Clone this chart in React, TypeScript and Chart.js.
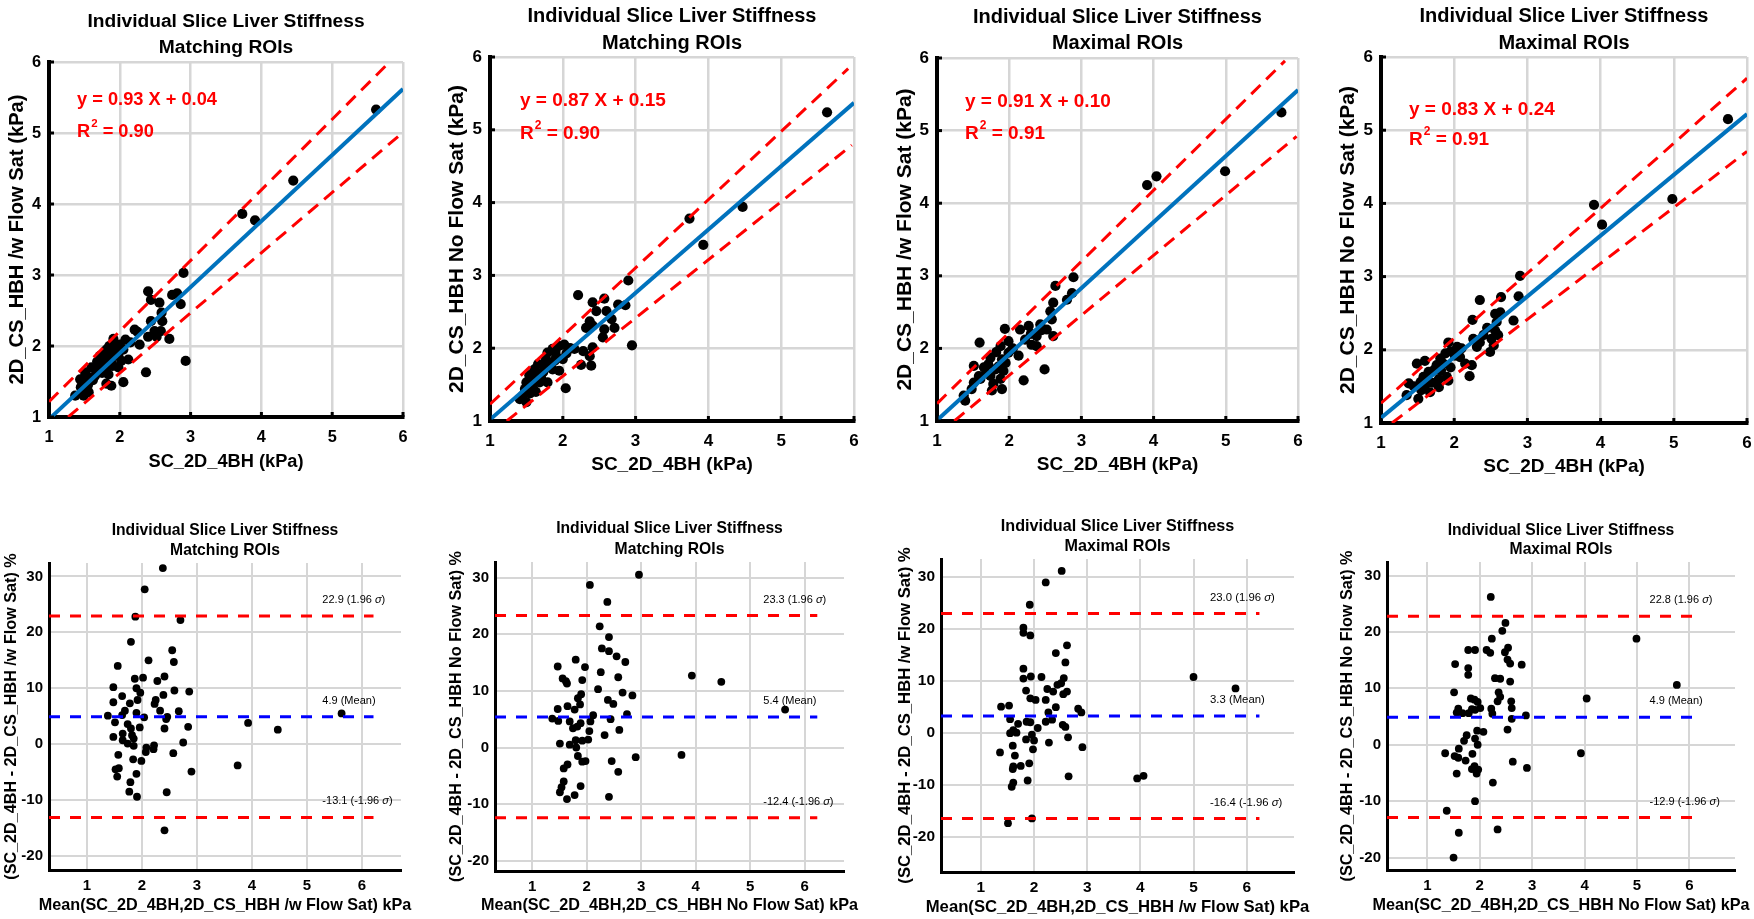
import React, { useEffect, useRef } from "react";
import { Chart, registerables } from "chart.js";
Chart.register(...registerables);

const FONT = '"Liberation Sans", Arial, sans-serif';

// ---------------- Data ----------------
const topTickValues = [1, 2, 3, 4, 5, 6];
const bottomXTickValues = [1, 2, 3, 4, 5, 6];
const bottomYTickValues = [-20, -10, 0, 10, 20, 30];

const topTitles = [
  ["Individual Slice Liver Stiffness", "Matching ROIs"],
  ["Individual Slice Liver Stiffness", "Matching ROIs"],
  ["Individual Slice Liver Stiffness", "Maximal ROIs"],
  ["Individual Slice Liver Stiffness", "Maximal ROIs"],
];
const topXTitle = "SC_2D_4BH (kPa)";
const topYTitles = [
  "2D_CS_HBH /w Flow Sat (kPa)",
  "2D_CS_HBH No Flow Sat (kPa)",
  "2D_CS_HBH /w Flow Sat (kPa)",
  "2D_CS_HBH No Flow Sat (kPa)",
];
const bottomXTitles = [
  "Mean(SC_2D_4BH,2D_CS_HBH /w Flow Sat) kPa",
  "Mean(SC_2D_4BH,2D_CS_HBH No Flow Sat) kPa",
  "Mean(SC_2D_4BH,2D_CS_HBH /w Flow Sat) kPa",
  "Mean(SC_2D_4BH,2D_CS_HBH No Flow Sat) kPa",
];
const bottomYTitles = [
  "(SC_2D_4BH - 2D_CS_HBH /w Flow Sat) %",
  "(SC_2D_4BH - 2D_CS_HBH No Flow Sat) %",
  "(SC_2D_4BH - 2D_CS_HBH /w Flow Sat) %",
  "(SC_2D_4BH - 2D_CS_HBH No Flow Sat) %",
];

const fitSlopes = [0.93, 0.87, 0.91, 0.83];
const fitIntercepts = [0.04, 0.15, 0.1, 0.24];
const fitR2 = [0.9, 0.9, 0.91, 0.91];

// dashed band end points [x, y]
const upperBands = [
  [[1.0, 1.215], [5.77, 5.96]],
  [[1.0, 1.23], [5.92, 5.84]],
  [[1.0, 1.24], [5.82, 5.96]],
  [[1.0, 1.27], [6.0, 5.71]],
];
const lowerBands = [
  [[1.27, 1.0], [5.93, 4.95]],
  [[1.23, 1.0], [5.97, 4.79]],
  [[1.24, 1.0], [5.98, 4.92]],
  [[1.15, 1.0], [6.0, 4.71]],
];

const p1Points = [
  [5.62, 5.33], [4.45, 4.33], [3.73, 3.86], [3.91, 3.77], [2.9, 3.03], [2.93, 1.79],
  [2.4, 2.77], [2.44, 2.65], [2.56, 2.61], [2.74, 2.72], [2.81, 2.74], [2.86, 2.59],
  [2.59, 2.47], [2.44, 2.35], [2.6, 2.35], [2.49, 2.21], [2.58, 2.21], [2.7, 2.1],
  [2.4, 2.13], [2.28, 2.02], [2.21, 2.23], [2.08, 2.09], [1.91, 2.1], [1.93, 2.0],
  [1.81, 1.95], [1.88, 1.91], [1.98, 1.86], [2.12, 1.81], [1.79, 1.81], [1.88, 1.77],
  [1.74, 1.7], [1.6, 1.7], [1.67, 1.67], [1.51, 1.63], [1.56, 1.56], [1.65, 1.58],
  [1.79, 1.65], [1.84, 1.6], [1.98, 1.7], [2.02, 1.79], [2.37, 1.63], [2.05, 1.49],
  [1.81, 1.47], [1.88, 1.44], [1.47, 1.49], [1.56, 1.35], [1.37, 1.3], [1.49, 1.3],
  [1.44, 1.53], [1.7, 1.74], [1.86, 1.84], [1.93, 1.95], [1.72, 1.86], [2.52, 2.13],
  [1.55, 1.45], [1.62, 1.52], [1.75, 1.62], [1.95, 1.9], [2.0, 2.02], [1.85, 2.0],
  [1.68, 1.78], [2.15, 2.05], [2.25, 2.2], [1.45, 1.42], [1.5, 1.55], [1.9, 1.72],
  [2.05, 1.95], [1.78, 1.9],
];
const p2Points = [
  [5.63, 5.24], [4.47, 3.94], [3.74, 3.78], [3.93, 3.42], [2.9, 2.93], [2.95, 2.04],
  [2.21, 2.73], [2.04, 1.45], [2.41, 2.63], [2.57, 2.68], [2.46, 2.51], [2.6, 2.51],
  [2.76, 2.6], [2.86, 2.59], [2.67, 2.4], [2.37, 2.37], [2.41, 2.31], [2.57, 2.26],
  [2.71, 2.28], [2.32, 2.28], [2.55, 2.15], [2.41, 2.01], [2.37, 1.89], [2.25, 1.77],
  [2.39, 1.76], [2.28, 1.96], [2.16, 1.99], [2.02, 2.05], [1.95, 2.03], [1.86, 1.99],
  [1.79, 1.94], [1.91, 1.89], [2.05, 1.93], [1.77, 1.85], [1.66, 1.78], [1.54, 1.63],
  [1.61, 1.71], [1.73, 1.67], [1.86, 1.71], [1.95, 1.69], [1.79, 1.53], [1.5, 1.53],
  [1.48, 1.44], [1.59, 1.44], [1.41, 1.3], [1.5, 1.26], [1.63, 1.4], [1.68, 1.53],
  [1.89, 1.83], [1.73, 1.78], [1.45, 1.35], [1.55, 1.38], [1.6, 1.55], [1.7, 1.6],
  [1.82, 1.78], [1.9, 1.95], [2.0, 1.85], [2.1, 2.0], [1.75, 1.72], [1.65, 1.65],
];
const p3Points = [
  [5.77, 5.25], [4.99, 4.44], [3.91, 4.25], [4.04, 4.37], [2.89, 2.98], [2.64, 2.86],
  [2.49, 1.71], [2.2, 1.56], [1.59, 2.08], [1.94, 2.27], [2.87, 2.76], [2.8, 2.67],
  [2.61, 2.63], [2.57, 2.51], [2.59, 2.4], [2.43, 2.33], [2.52, 2.26], [2.61, 2.17],
  [2.38, 2.17], [2.27, 2.31], [2.15, 2.26], [2.22, 2.12], [2.31, 2.05], [1.99, 2.1],
  [1.88, 2.03], [2.04, 1.99], [2.13, 1.9], [1.74, 1.87], [1.9, 1.85], [1.51, 1.76],
  [1.65, 1.74], [1.81, 1.71], [1.92, 1.69], [1.74, 1.62], [1.6, 1.58], [1.88, 1.58],
  [1.51, 1.53], [1.78, 1.51], [1.9, 1.44], [1.76, 1.42], [2.38, 2.03], [1.37, 1.35],
  [1.39, 1.28], [1.48, 1.44], [1.71, 1.78], [1.99, 1.94], [1.82, 1.95], [1.95, 1.8],
  [2.05, 2.0], [1.68, 1.66], [1.58, 1.62], [2.3, 2.2], [2.45, 2.25], [1.85, 1.75],
];
const p4Points = [
  [5.74, 5.15], [4.98, 4.06], [3.91, 3.98], [4.02, 3.71], [2.9, 3.01], [2.35, 2.68],
  [2.64, 2.72], [2.88, 2.73], [2.56, 2.49], [2.63, 2.51], [2.25, 2.41], [2.81, 2.4],
  [2.58, 2.38], [2.56, 2.26], [2.4, 2.2], [2.51, 2.15], [2.26, 2.15], [2.31, 2.04],
  [2.49, 1.97], [2.54, 2.06], [1.92, 2.1], [2.04, 2.04], [2.01, 1.92], [1.88, 1.95],
  [1.81, 1.88], [2.15, 1.81], [2.24, 1.79], [2.21, 1.64], [1.95, 1.76], [1.76, 1.79],
  [1.6, 1.85], [1.49, 1.81], [1.72, 1.72], [1.58, 1.63], [1.9, 1.63], [1.79, 1.6],
  [1.54, 1.56], [1.92, 1.58], [1.38, 1.54], [1.6, 1.51], [1.79, 1.49], [1.35, 1.38],
  [1.51, 1.33], [1.67, 1.42], [2.08, 1.9], [1.85, 1.81], [1.65, 1.7], [1.7, 1.55],
  [1.82, 1.72], [1.95, 1.98], [2.1, 2.02], [1.55, 1.45], [2.45, 2.3], [2.6, 2.2],
  [1.45, 1.5], [2.35, 2.1],
];

const baUpper = [22.9, 23.3, 23.0, 22.8];
const baMean = [4.9, 5.4, 3.3, 4.9];
const baLower = [-13.1, -12.4, -16.4, -12.9];

const b1Points = [
  [2.38, 31.5], [2.05, 27.7], [1.88, 22.8], [2.7, 22.2], [1.8, 18.3], [2.55, 16.8],
  [2.58, 14.7], [2.12, 15.0], [1.56, 14.0], [2.02, 11.9], [1.87, 11.7], [2.41, 12.1],
  [2.28, 11.3], [1.48, 10.2], [1.9, 10.0], [1.97, 9.2], [2.59, 9.6], [2.86, 9.4],
  [2.39, 8.8], [1.64, 8.6], [1.92, 7.9], [1.78, 7.3], [1.48, 7.5], [2.25, 7.9],
  [2.23, 7.2], [1.69, 6.0], [1.64, 5.2], [1.9, 5.6], [2.33, 6.0], [2.67, 5.9],
  [1.38, 5.1], [2.04, 4.8], [2.46, 4.9], [1.51, 3.9], [2.44, 4.5], [1.74, 3.6],
  [1.96, 3.0], [1.8, 2.8], [2.41, 2.8], [2.84, 3.1], [1.65, 1.9], [1.48, 1.3],
  [1.82, 1.6], [1.85, 1.0], [1.65, 0.7], [1.74, 0.1], [1.85, -0.3], [2.75, 0.3],
  [2.08, -0.6], [2.22, -0.2], [2.21, -0.9], [2.07, -1.4], [2.57, -1.6], [1.57, -1.9],
  [1.84, -2.7], [1.99, -3.0], [3.74, -3.8], [3.93, 3.8], [4.47, 2.6], [5.63, 5.5],
  [1.52, -4.5], [1.58, -4.3], [2.9, -4.9], [1.55, -5.8], [1.9, -5.3], [1.79, -6.8],
  [1.77, -8.5], [2.45, -8.6], [1.91, -9.4], [2.41, -15.4],
];
const b2Points = [
  [2.96, 30.5], [2.06, 28.7], [2.38, 25.7], [2.24, 21.4], [2.41, 19.5], [2.28, 17.5],
  [2.41, 17.0], [2.55, 16.1], [1.8, 15.5], [2.71, 15.1], [1.47, 14.3], [1.97, 14.2],
  [2.26, 13.3], [2.58, 12.4], [1.56, 12.2], [1.92, 11.9], [1.64, 11.3], [1.62, 11.7],
  [2.21, 10.3], [2.66, 9.7], [2.84, 9.2], [1.9, 9.4], [1.84, 8.7], [2.39, 8.4],
  [2.49, 7.7], [1.65, 7.3], [1.88, 7.6], [1.47, 6.8], [1.78, 6.7], [2.74, 5.9],
  [2.12, 5.7], [1.37, 5.1], [1.48, 4.7], [2.44, 5.0], [1.69, 4.6], [1.89, 4.3],
  [2.07, 4.6], [1.75, 3.4], [1.83, 3.7], [2.6, 3.1], [2.05, 2.9], [2.33, 2.2],
  [2.03, 1.4], [1.8, 1.3], [1.92, 1.2], [1.51, 0.7], [1.69, 0.5], [1.81, 0.0],
  [1.84, -1.5], [2.9, -1.7], [3.74, -1.3], [3.93, 12.7], [4.47, 11.6], [5.64, 6.7],
  [1.92, -2.5], [1.98, -2.4], [2.46, -2.4], [1.65, -3.0], [1.58, -3.7], [2.58, -4.3],
  [1.58, -6.0], [1.54, -7.0], [1.51, -7.9], [1.89, -6.8], [1.78, -8.4], [1.64, -9.1],
  [2.41, -8.7],
];
const b3Points = [
  [2.52, 31.2], [2.22, 29.0], [1.92, 24.7], [1.8, 20.3], [1.8, 19.3], [1.93, 18.8],
  [2.62, 16.9], [2.41, 15.4], [2.59, 13.6], [1.8, 12.4], [2.14, 10.8], [1.8, 10.5],
  [1.94, 10.9], [2.56, 10.6], [2.51, 9.6], [2.44, 9.3], [2.25, 8.5], [2.36, 8.0],
  [1.85, 8.2], [2.62, 8.0], [2.55, 7.5], [5.0, 10.8], [5.79, 8.6], [1.93, 6.7],
  [2.03, 6.4], [2.22, 6.4], [1.38, 5.1], [1.53, 5.3], [2.41, 5.0], [2.83, 4.7],
  [2.89, 4.0], [2.27, 4.0], [1.55, 2.7], [2.34, 2.6], [2.22, 2.2], [1.86, 2.2],
  [1.93, 2.1], [1.7, 1.8], [2.54, 1.6], [2.59, 1.2], [2.07, 1.0], [1.61, 0.6],
  [1.55, 0.0], [1.67, 0.1], [1.96, -0.3], [1.85, -1.2], [2.0, -1.4], [2.64, -0.8],
  [2.28, -1.8], [1.98, -3.1], [1.6, -2.4], [2.91, -2.7], [1.36, -3.7], [1.64, -4.3],
  [1.75, -6.3], [1.91, -5.8], [1.61, -6.4], [1.6, -6.9], [2.65, -8.3], [3.94, -8.7],
  [4.06, -8.2], [1.88, -9.1], [1.61, -9.5], [1.58, -10.3], [1.96, -16.4], [1.51, -17.3],
];
const b4Points = [
  [2.21, 26.2], [2.49, 21.6], [2.43, 20.2], [2.23, 18.8], [4.99, 18.8], [1.78, 16.8],
  [1.91, 16.8], [2.13, 16.8], [2.2, 16.3], [2.54, 17.2], [2.48, 16.4], [2.53, 15.1],
  [2.58, 14.4], [1.53, 14.3], [2.8, 14.2], [1.78, 13.6], [1.78, 12.4], [2.29, 11.8],
  [2.39, 11.7], [2.58, 11.2], [5.76, 10.6], [1.51, 9.3], [2.36, 9.3], [2.39, 8.5],
  [2.34, 7.7], [4.04, 8.2], [1.83, 8.2], [1.9, 8.0], [1.96, 7.6], [2.6, 7.7],
  [2.61, 6.5], [2.01, 6.5], [2.22, 6.4], [1.59, 6.4], [1.85, 6.3], [1.91, 6.2],
  [1.56, 5.7], [1.67, 5.6], [1.79, 5.6], [2.24, 5.5], [2.88, 5.2], [2.61, 4.6],
  [2.53, 2.7], [1.95, 2.5], [2.07, 2.3], [1.75, 1.7], [1.91, 1.1], [1.7, 0.7],
  [1.96, 0.0], [1.34, -1.5], [1.6, -0.7], [1.52, -2.0], [1.59, -2.3], [1.86, -1.6],
  [1.73, -2.8], [3.93, -1.5], [2.63, -3.0], [1.9, -3.8], [1.97, -4.4], [2.9, -4.1],
  [1.85, -4.3], [1.94, -5.1], [1.56, -5.1], [2.25, -6.7], [1.91, -10.0], [1.37, -11.7],
  [2.34, -15.0], [1.6, -15.6], [1.5, -20.0],
];

const topPoints = [p1Points, p2Points, p3Points, p4Points];
const bottomPoints = [b1Points, b2Points, b3Points, b4Points];

// bottom axis limits
const bottomXRanges = [[0.31, 6.71], [0.32, 6.72], [0.25, 6.89], [0.23, 6.87]];
const bottomYRanges = [[-22.5, 32.4], [-21.8, 32.75], [-26.7, 33.5], [-22.2, 32.4]];
const limitLineEnd = [6.21, 6.23, 6.24, 6.24];
const limitLabelX = [5.28, 5.24, 5.31, 5.24];

// ---------------- Layout (absolute page px) ----------------
const topLayout = [
  { box: [0, 0, 440, 490], area: [49, 62, 403, 417], titleY: [22, 48], yTitleX: 17, xTitleY: 462, fs: 0.96, eq: [28, 38, 70] },
  { box: [440, 0, 440, 490], area: [490, 57, 854, 421], titleY: [16, 43], yTitleX: 457, xTitleY: 465, fs: 1, eq: [30, 44, 77] },
  { box: [880, 0, 440, 490], area: [937, 58, 1298, 421], titleY: [17, 43], yTitleX: 905, xTitleY: 465, fs: 1, eq: [28, 44, 76] },
  { box: [1320, 0, 434, 490], area: [1381, 57, 1747, 423], titleY: [16, 43], yTitleX: 1348, xTitleY: 467, fs: 1, eq: [28, 53, 83] },
];
const bottomLayout = [
  { box: [0, 500, 440, 419], area: [49, 563, 401, 870], titleY: [531, 551], yTitleX: 12, xTitleY: 906, fs: 1 },
  { box: [440, 500, 440, 419], area: [495, 562, 844, 871], titleY: [529, 550], yTitleX: 457, xTitleY: 906, fs: 1 },
  { box: [880, 500, 440, 419], area: [941, 559, 1294, 872], titleY: [527, 547], yTitleX: 905, xTitleY: 907, fs: 1.03 },
  { box: [1320, 500, 434, 419], area: [1387, 562, 1735, 870], titleY: [531, 550], yTitleX: 1348, xTitleY: 906, fs: 1 },
];

const toXY = (pts: number[][]) => pts.map((p) => ({ x: p[0], y: p[1] }));

function topConfig(i: number): any {
  const L = topLayout[i];
  const [bx, by, bw, bh] = L.box;
  const [al, at, ar, ab] = L.area;
  const s = L.fs;
  const slope = fitSlopes[i];
  const b0 = fitIntercepts[i];
  const fitLine = [1, 6].map((x) => ({ x, y: slope * x + b0 }));
  const plugin = {
    id: "topText" + i,
    afterDraw(chart: any) {
      const ctx = chart.ctx as CanvasRenderingContext2D;
      const a = chart.chartArea;
      const xs = chart.scales.x;
      const ys = chart.scales.y;
      ctx.save();
      ctx.strokeStyle = "#000";
      ctx.lineWidth = 3;
      topTickValues.forEach((v) => {
        const px = xs.getPixelForValue(v);
        ctx.beginPath();
        ctx.moveTo(px, a.bottom);
        ctx.lineTo(px, a.bottom - 5);
        ctx.stroke();
        const py = ys.getPixelForValue(v);
        ctx.beginPath();
        ctx.moveTo(a.left, py);
        ctx.lineTo(a.left + 5, py);
        ctx.stroke();
      });
      ctx.fillStyle = "#000";
      ctx.textBaseline = "middle";
      ctx.font = `bold ${17 * s}px ${FONT}`;
      ctx.textAlign = "center";
      topTickValues.forEach((v) => ctx.fillText(String(v), xs.getPixelForValue(v), a.bottom + 20));
      ctx.textAlign = "right";
      topTickValues.forEach((v) => ctx.fillText(String(v), a.left - 8, ys.getPixelForValue(v)));
      const cx = (a.left + a.right) / 2;
      ctx.textAlign = "center";
      ctx.font = `bold ${20 * s}px ${FONT}`;
      ctx.fillText(topTitles[i][0], cx, L.titleY[0] - by);
      ctx.fillText(topTitles[i][1], cx, L.titleY[1] - by);
      ctx.font = `bold ${19 * s}px ${FONT}`;
      ctx.fillText(topXTitle, cx, L.xTitleY - by);
      ctx.save();
      ctx.translate(L.yTitleX - bx, (a.top + a.bottom) / 2);
      ctx.rotate(-Math.PI / 2);
      ctx.font = `bold ${21 * s}px ${FONT}`;
      ctx.fillText(topYTitles[i], 0, 0);
      ctx.restore();
      // equation
      ctx.fillStyle = "#ff0000";
      ctx.textAlign = "left";
      ctx.font = `bold ${19 * s}px ${FONT}`;
      const ex = a.left + L.eq[0];
      ctx.fillText(`y = ${slope.toFixed(2)} X + ${b0.toFixed(2)}`, ex, a.top + L.eq[1]);
      const ry = a.top + L.eq[2];
      ctx.fillText("R", ex, ry);
      const rw = ctx.measureText("R").width;
      ctx.font = `bold ${12 * s}px ${FONT}`;
      ctx.fillText("2", ex + rw + 1, ry - 8 * s);
      const sw = ctx.measureText("2").width;
      ctx.font = `bold ${19 * s}px ${FONT}`;
      ctx.fillText(` = ${fitR2[i].toFixed(2)}`, ex + rw + sw + 1, ry);
      ctx.restore();
    },
  };
  const gridOpts = { color: "#d6d6d6", lineWidth: 2.5, drawTicks: false };
  return {
    type: "scatter",
    data: {
      datasets: [
        { data: toXY(topPoints[i]), backgroundColor: "#000", pointRadius: 5.1, pointHoverRadius: 5.1, pointBorderWidth: 0, order: 10 },
        { data: fitLine, showLine: true, borderColor: "#0072BD", borderWidth: 4, pointRadius: 0, order: 1 },
        { data: toXY(upperBands[i]), showLine: true, borderColor: "#ff0000", borderWidth: 3, borderDash: [13, 8], pointRadius: 0, order: 2 },
        { data: toXY(lowerBands[i]), showLine: true, borderColor: "#ff0000", borderWidth: 3, borderDash: [13, 8], pointRadius: 0, order: 2 },
      ],
    },
    options: {
      responsive: false,
      animation: false,
      events: [],
      layout: { padding: { left: 0, top: at - by, right: bx + bw - ar, bottom: 0 } },
      plugins: { legend: { display: false }, title: { display: false }, tooltip: { enabled: false } },
      scales: {
        x: {
          type: "linear", min: 1, max: 6,
          afterBuildTicks: (sc: any) => { sc.ticks = topTickValues.map((v) => ({ value: v })); },
          afterFit: (sc: any) => { sc.height = by + bh - ab; },
          ticks: { display: false },
          grid: gridOpts,
          border: { display: true, color: "#000", width: 4 },
        },
        y: {
          type: "linear", min: 1, max: 6,
          afterBuildTicks: (sc: any) => { sc.ticks = topTickValues.map((v) => ({ value: v })); },
          afterFit: (sc: any) => { sc.width = al - bx; },
          ticks: { display: false },
          grid: gridOpts,
          border: { display: true, color: "#000", width: 4 },
        },
      },
    },
    plugins: [plugin],
  };
}

function bottomConfig(i: number): any {
  const L = bottomLayout[i];
  const [bx, by, bw, bh] = L.box;
  const [al, at, ar, ab] = L.area;
  const s = L.fs;
  const [xmin, xmax] = bottomXRanges[i];
  const [ymin, ymax] = bottomYRanges[i];
  const hline = (v: number) => [{ x: xmin, y: v }, { x: limitLineEnd[i], y: v }];
  const plugin = {
    id: "bottomText" + i,
    afterDraw(chart: any) {
      const ctx = chart.ctx as CanvasRenderingContext2D;
      const a = chart.chartArea;
      const xs = chart.scales.x;
      const ys = chart.scales.y;
      ctx.save();
      ctx.fillStyle = "#000";
      ctx.textBaseline = "middle";
      ctx.font = `bold ${15 * s}px ${FONT}`;
      ctx.textAlign = "center";
      bottomXTickValues.forEach((v) => ctx.fillText(String(v), xs.getPixelForValue(v), a.bottom + 16));
      ctx.textAlign = "right";
      bottomYTickValues.forEach((v) => ctx.fillText(String(v), a.left - 6, ys.getPixelForValue(v)));
      const cx = (a.left + a.right) / 2;
      ctx.textAlign = "center";
      ctx.font = `bold ${15.7 * s}px ${FONT}`;
      ctx.fillText(topTitles[i][0], cx, L.titleY[0] - by);
      ctx.fillText(topTitles[i][1], cx, L.titleY[1] - by);
      ctx.font = `bold ${16.2 * s}px ${FONT}`;
      ctx.fillText(bottomXTitles[i], cx, L.xTitleY - by);
      ctx.save();
      ctx.translate(L.yTitleX - bx, (a.top + a.bottom) / 2);
      ctx.rotate(-Math.PI / 2);
      ctx.fillText(bottomYTitles[i], 0, 0);
      ctx.restore();
      // limit labels
      ctx.textAlign = "left";
      const lx = xs.getPixelForValue(limitLabelX[i]);
      const drawParts = (parts: [string, boolean][], y: number) => {
        let x = lx;
        parts.forEach(([t, it]) => {
          ctx.font = `${it ? "italic " : ""}${11 * s}px ${FONT}`;
          ctx.fillText(t, x, y);
          x += ctx.measureText(t).width;
        });
      };
      drawParts([[`${baUpper[i].toFixed(1)} (1.96 `, false], ["σ", true], [")", false]], ys.getPixelForValue(baUpper[i]) - 16);
      drawParts([[`${baMean[i].toFixed(1)} (Mean)`, false]], ys.getPixelForValue(baMean[i]) - 16);
      drawParts([[`${baLower[i].toFixed(1)} (-1.96 `, false], ["σ", true], [")", false]], ys.getPixelForValue(baLower[i]) - 16);
      ctx.restore();
    },
  };
  const gridOpts = { color: "#d6d6d6", lineWidth: 2, drawTicks: false };
  return {
    type: "scatter",
    data: {
      datasets: [
        { data: toXY(bottomPoints[i]), backgroundColor: "#000", pointRadius: 3.9, pointHoverRadius: 3.9, pointBorderWidth: 0, order: 10 },
        { data: hline(baUpper[i]), showLine: true, borderColor: "#ff0000", borderWidth: 3, borderDash: [11, 10], pointRadius: 0, order: 1 },
        { data: hline(baMean[i]), showLine: true, borderColor: "#0000ff", borderWidth: 3, borderDash: [11, 10], pointRadius: 0, order: 1 },
        { data: hline(baLower[i]), showLine: true, borderColor: "#ff0000", borderWidth: 3, borderDash: [11, 10], pointRadius: 0, order: 1 },
      ],
    },
    options: {
      responsive: false,
      animation: false,
      events: [],
      layout: { padding: { left: 0, top: at - by, right: bx + bw - ar, bottom: 0 } },
      plugins: { legend: { display: false }, title: { display: false }, tooltip: { enabled: false } },
      scales: {
        x: {
          type: "linear", min: xmin, max: xmax,
          afterBuildTicks: (sc: any) => { sc.ticks = bottomXTickValues.map((v) => ({ value: v })); },
          afterFit: (sc: any) => { sc.height = by + bh - ab; },
          ticks: { display: false },
          grid: gridOpts,
          border: { display: true, color: "#000", width: 3 },
        },
        y: {
          type: "linear", min: ymin, max: ymax,
          afterBuildTicks: (sc: any) => { sc.ticks = bottomYTickValues.map((v) => ({ value: v })); },
          afterFit: (sc: any) => { sc.width = al - bx; },
          ticks: { display: false },
          grid: gridOpts,
          border: { display: true, color: "#000", width: 3 },
        },
      },
    },
    plugins: [plugin],
  };
}

function ChartCanvas({ box, make }: { box: number[]; make: () => any }) {
  const ref = useRef<HTMLCanvasElement>(null);
  useEffect(() => {
    const chart = new Chart(ref.current as HTMLCanvasElement, make());
    return () => chart.destroy();
  }, []);
  return (
    <canvas
      ref={ref}
      width={box[2]}
      height={box[3]}
      style={{ position: "absolute", left: box[0], top: box[1], width: box[2], height: box[3] }}
    />
  );
}

export default function App() {
  return (
    <div style={{ position: "absolute", left: 0, top: 0, width: 1754, height: 919, background: "#fff" }}>
      {topLayout.map((L, i) => (
        <ChartCanvas key={"t" + i} box={L.box} make={() => topConfig(i)} />
      ))}
      {bottomLayout.map((L, i) => (
        <ChartCanvas key={"b" + i} box={L.box} make={() => bottomConfig(i)} />
      ))}
    </div>
  );
}
